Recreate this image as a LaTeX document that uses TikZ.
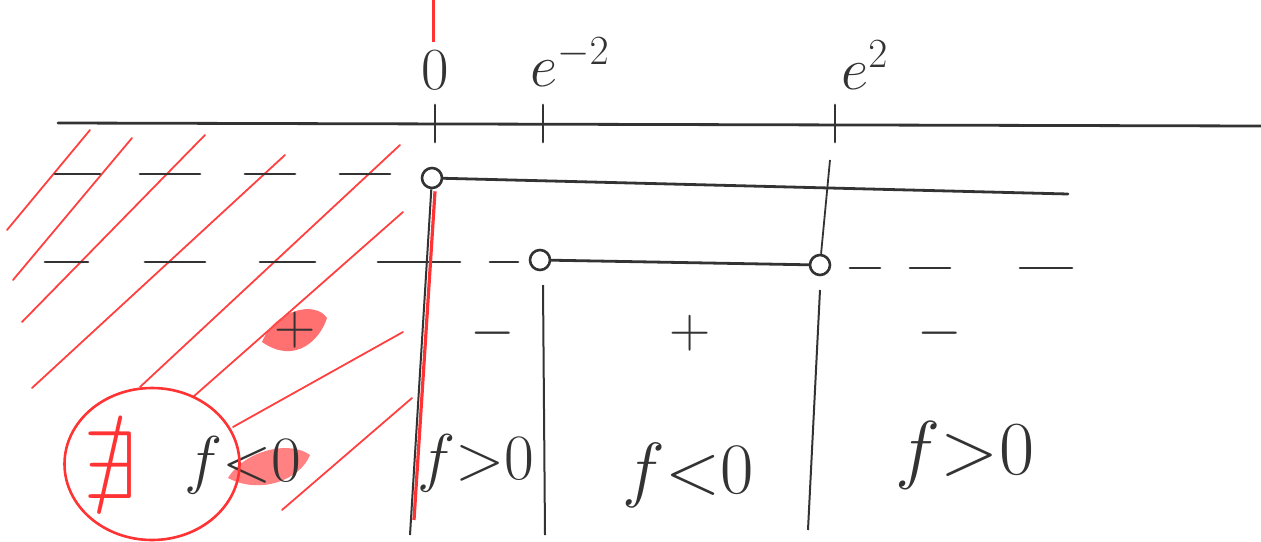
\documentclass[tikz,border=0pt]{standalone}
\usepackage{amsmath,amssymb}
\usetikzlibrary{calc,shapes.geometric}

\tikzset{
    pen/.style={line width=2.8pt, black!80, line cap=round},
    redpen/.style={line width=1.8pt, red!75, line cap=round},
    hole/.style={circle, draw, line width=2.6pt, black!80, minimum size=20pt, inner sep=0pt},
    lab/.style={font=\fontsize{24}{28}\selectfont, text=black!80, scale=2.4, transform shape},
    rel/.style={font=\fontsize{24}{28}\selectfont, text=black!80, scale=2.6, transform shape},
    sgn/.style={font=\fontsize{24}{28}\selectfont, text=black!80, scale=2.3, transform shape}
}

\begin{document}
\begin{tikzpicture}[x=1pt, y=-1pt]
    \useasboundingbox (0,0) rectangle (1261,541);

    % 红色阴影区
    \foreach \a/\b/\c/\d in {7/230/90/130, 13/280/132/138, 22/322/205/135, 32/388/285/155,
        140/387/400/145, 193/397/403/212, 233/427/403/332, 282/510/412/398} {
        \draw[redpen] (\a,\b) -- (\c,\d);
    }

    % 数轴及标记
    \coordinate (axL) at (58,123);
    \coordinate (axR) at (1261,126);
    \draw[pen] (axL) -- (axR);
    \foreach \x/\name in {435/t0, 543/t1, 835/t2} {
        \coordinate (\name a) at (\x,105);
        \coordinate (\name b) at (\x,142);
        \draw[pen] (\name a) -- (\name b);
    }
    \node[lab] (l0) at (435,70) {$0$};
    \node[lab] (l1) at (570,62) {$e^{-2}$};
    \node[lab] (l2) at (865,65) {$e^{2}$};

    % 顶部红线
    \coordinate (rt) at (433,0);
    \coordinate (rb) at (433,42);
    \draw[line width=3pt, red!80] (rt) -- (rb);

    % 第一行
    \node[hole] (h0) at (432,178) {};
    \coordinate (r1) at (1068,194);
    \draw[pen] (h0) -- (r1);
    \foreach \a/\b in {55/100, 140/200, 245/295, 340/390} {
        \draw[pen] (\a,174) -- (\b,174);
    }

    % 第二行
    \node[hole] (h1) at (540,260) {};
    \node[hole] (h2) at (820,265) {};
    \draw[pen] (h1) -- (h2);
    \foreach \a/\b in {45/88, 145/205, 260/315, 378/460, 490/518} {
        \draw[pen] (\a,262) -- (\b,262);
    }
    \foreach \a/\b in {850/880, 910/950, 1020/1072} {
        \draw[pen] (\a,268) -- (\b,268);
    }
    \coordinate (v2t) at (830,160);
    \draw[line width=1.8pt, black!80] (v2t) -- (h2);

    % 竖线
    \coordinate (v0b) at (410,535);
    \coordinate (v1t) at (543,285);
    \coordinate (v1b) at (545,535);
    \coordinate (v2a) at (820,290);
    \coordinate (v2b) at (808,530);
    \draw[line width=3.2pt, red!80] ($(h0.south)+(3,2)$) -- (414,520);
    \draw[line width=2pt, black!80] (h0) -- (v0b);
    \draw[line width=2pt, black!80] (v1t) -- (v1b);
    \draw[line width=2pt, black!80] (v2a) -- (v2b);

    % 符号
    \node[sgn] (s1) at (493,333) {$-$};
    \node[sgn] (s2) at (690,333) {$+$};
    \node[sgn] (s3) at (940,333) {$-$};
    \fill[red!70, opacity=0.8] (262,342) .. controls (275,310) and (315,300) .. (327,318)
        .. controls (320,340) and (295,365) .. cycle;
    \node[sgn] (s0) at (295,330) {$+$};

    % 结论
    \node[rel] (f1) at (476,463) {$f{>}0$};
    \node[rel, scale=1.12] (f2) at (688,475) {$f{<}0$};
    \node[rel, scale=1.18] (f3) at (965,455) {$f{>}0$};
    \fill[red!70, opacity=0.7] (228,478) .. controls (245,450) and (290,440) .. (310,455)
        .. controls (300,480) and (260,495) .. cycle;
    \node[rel] (f0) at (243,465) {$f{<}0$};
    \node[draw=red!80, line width=2.6pt, ellipse, minimum width=175pt, minimum height=152pt,
        inner sep=0pt] (ring) at (152,464) {};
    \node[font=\fontsize{24}{28}\selectfont, text=red!80, scale=4, transform shape] (nx) at (110,465) {$\nexists$};
\end{tikzpicture}
\end{document}
